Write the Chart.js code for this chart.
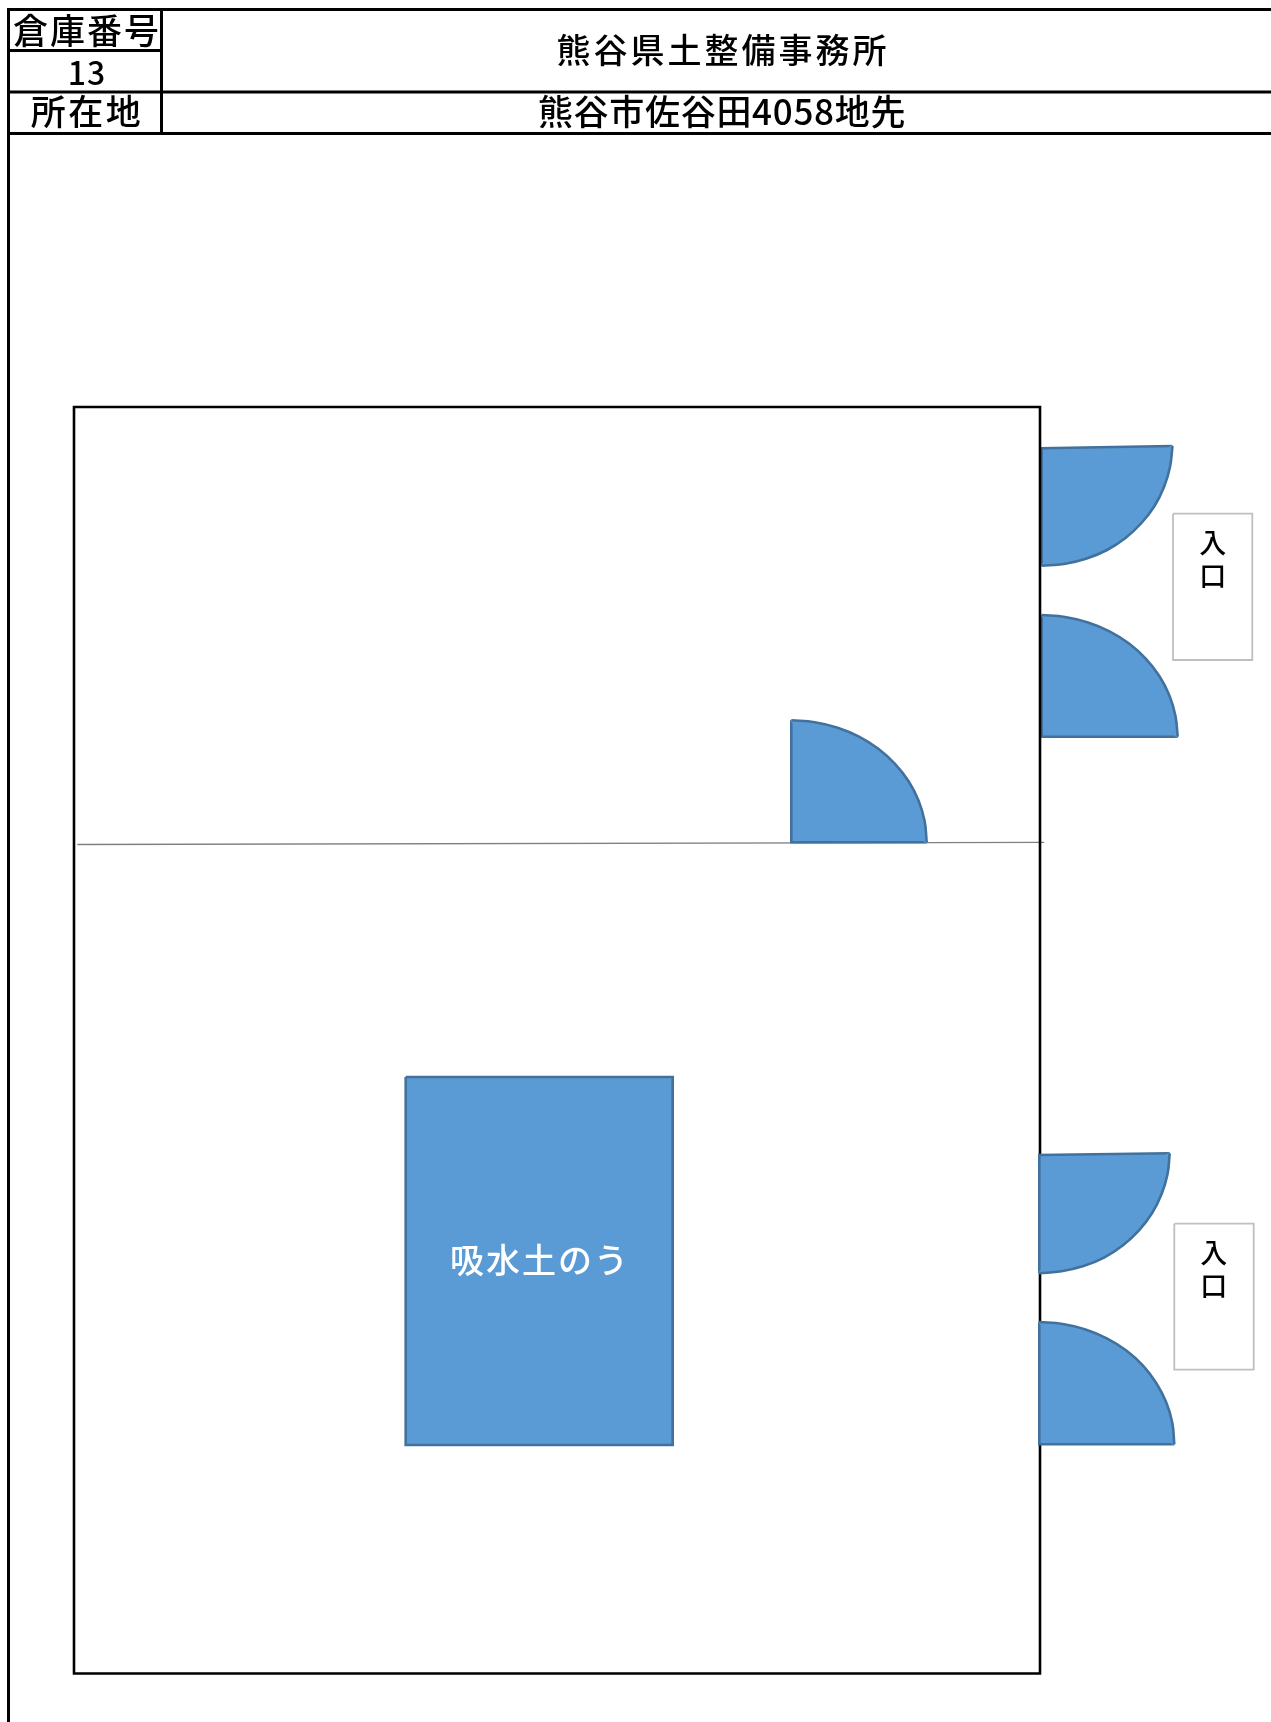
<!DOCTYPE html>
<html lang="ja">
<head>
<meta charset="utf-8">
<title>倉庫番号 13</title>
<script src="https://cdn.jsdelivr.net/npm/chart.js@4"></script>
<style>
  html, body { margin: 0; padding: 0; background: #fff; }
  canvas { display: block; }
</style>
</head>
<body>
<canvas id="plan" width="1271" height="1722"></canvas>
<script>
// Floor plan values
const frameX = [1271, 8.5, 8.5];
const frameY = [9.5, 9.5, 1722];
const cellRuleX = [8.5, 161.5];
const cellRuleY = [50.5, 50.5];
const rowRuleAX = [8.5, 1271];
const rowRuleAY = [92, 92];
const rowRuleBX = [8.5, 1271];
const rowRuleBY = [133.5, 133.5];
const headerSplitX = [161.5, 161.5];
const headerSplitY = [9.5, 133.5];

const roomX = [74, 1040, 1040, 74, 74];
const roomY = [407, 407, 1673.5, 1673.5, 407];
const dividerX = [78, 1043.5];
const dividerY = [844.5, 842.3];

const storeX = [405.7, 672.7, 672.7, 405.7, 405.7];
const storeY = [1077, 1077, 1445, 1445, 1077];

// door leaves: the curved edge, then the straight edges
const doorArcAX = [1172.5, 1170, 1164, 1154.5, 1141.5, 1125.5, 1107, 1086, 1064, 1041.7];
const doorArcAY = [446, 467, 487, 506, 523, 538, 550, 558.8, 564, 565.7];
const doorEdgeAX = [1041.7, 1041.7, 1172.5, 1041.7];
const doorEdgeAY = [565.7, 448.3, 446, 565.7];

const doorArcBX = [1041.7, 1065, 1088, 1109.5, 1129, 1145.7, 1159.3, 1169.3, 1175.4, 1177.7];
const doorArcBY = [615, 617, 622.4, 631.3, 643.5, 658.6, 676, 695.3, 715.8, 736.7];
const doorEdgeBX = [1177.7, 1041.7, 1041.7, 1177.7];
const doorEdgeBY = [736.7, 736.7, 615, 736.7];

const doorArcCX = [1169.7, 1167.5, 1161.5, 1152, 1139, 1123, 1104.5, 1083.5, 1061.5, 1039.3];
const doorArcCY = [1153.3, 1174.3, 1194.3, 1213.3, 1230.3, 1245.3, 1257.3, 1266.1, 1271.3, 1273.3];
const doorEdgeCX = [1039.3, 1039.3, 1169.7, 1039.3];
const doorEdgeCY = [1273.3, 1155, 1153.3, 1273.3];

const doorArcDX = [1039.3, 1062.7, 1085.5, 1106.8, 1126.3, 1143, 1156.2, 1166.2, 1172.3, 1174.3];
const doorArcDY = [1322, 1324, 1329.4, 1338.3, 1350.5, 1365.6, 1383, 1402.3, 1422.8, 1444.3];
const doorEdgeDX = [1174.3, 1039.3, 1039.3, 1174.3];
const doorEdgeDY = [1444.3, 1444.3, 1322, 1444.3];

const innerArcX = [791.3, 814.8, 837.6, 859, 878.3, 895, 908.6, 918.5, 924.6, 926.7];
const innerArcY = [720.3, 722.2, 727.7, 736.6, 748.8, 763.9, 781.3, 800.6, 821.1, 842.3];
const innerEdgeX = [926.7, 791.3, 791.3, 926.7];
const innerEdgeY = [842.3, 842.3, 720.3, 842.3];

const entryAX = [1173, 1252.3, 1252.3, 1173, 1173];
const entryAY = [513.7, 513.7, 660, 660, 513.7];
const entryBX = [1174.3, 1253.7, 1253.7, 1174.3, 1174.3];
const entryBY = [1223.7, 1223.7, 1369.7, 1369.7, 1223.7];

const headerLabels = ['倉庫番号', '13', '所在地', '熊谷県土整備事務所', '熊谷市佐谷田4058地先'];
const headerLabelX = [87, 87, 87, 723, 722];
const headerLabelY = [31, 72.5, 112, 50.5, 112];
const entryLabels = ['入', '口', '入', '口'];
const entryLabelX = [1212.7, 1212.7, 1213.7, 1213.7];
const entryLabelY = [542.5, 576, 1252.5, 1286];
const storeLabels = ['吸水土のう'];
const storeLabelX = [540];
const storeLabelY = [1260];

const BLUE = '#5B9BD5';
const BLUE_EDGE = '#41719C';
const EDGE_WIDTH = 2.6;

function points(xs, ys) {
  return xs.map((x, i) => ({ x, y: ys[i] }));
}

function rule(xs, ys, color, width) {
  return {
    data: points(xs, ys),
    showLine: true,
    borderColor: color,
    borderWidth: width,
    borderCapStyle: 'square',
    pointRadius: 0,
    tension: 0,
    fill: false,
  };
}

function shape(xs, ys, fillColor, edgeColor, width) {
  return {
    data: points(xs, ys),
    showLine: true,
    borderColor: edgeColor,
    borderWidth: width,
    backgroundColor: fillColor,
    pointRadius: 0,
    tension: 0,
    fill: 'shape',
  };
}

function doorArc(xs, ys) {
  return { ...shape(xs, ys, BLUE, BLUE_EDGE, EDGE_WIDTH), tension: 0.4 };
}

// the last segment is the chord under the arc, it stays the fill colour
function doorEdge(xs, ys) {
  return {
    ...shape(xs, ys, BLUE, BLUE_EDGE, EDGE_WIDTH),
    segment: { borderColor: (ctx) => (ctx.p0DataIndex === 2 ? BLUE : undefined) },
  };
}

// Draws the text through the same scales as the shapes
const planLabels = {
  id: 'planLabels',
  afterDatasetsDraw(chart) {
    const { ctx, scales } = chart;
    const put = (labels, xs, ys, font, color, spacing) => {
      ctx.save();
      ctx.font = font;
      ctx.fillStyle = color;
      ctx.textAlign = 'center';
      ctx.textBaseline = 'middle';
      ctx.letterSpacing = spacing;
      labels.forEach((label, i) => {
        ctx.fillText(label, scales.x.getPixelForValue(xs[i]), scales.y.getPixelForValue(ys[i]));
      });
      ctx.restore();
    };
    const jp = '"Noto Sans CJK JP"';
    put(headerLabels.slice(0, 1), headerLabelX, headerLabelY, `500 35px ${jp}`, '#000', '2px');
    put(headerLabels.slice(1, 2), headerLabelX.slice(1), headerLabelY.slice(1), `500 32px ${jp}`, '#000', '1px');
    put(headerLabels.slice(2, 3), headerLabelX.slice(2), headerLabelY.slice(2), `500 35px ${jp}`, '#000', '2.5px');
    put(headerLabels.slice(3, 4), headerLabelX.slice(3), headerLabelY.slice(3), `500 34px ${jp}`, '#000', '3px');
    put(headerLabels.slice(4), headerLabelX.slice(4), headerLabelY.slice(4), `500 35px ${jp}`, '#000', '0.7px');
    put(entryLabels, entryLabelX, entryLabelY, `500 27px ${jp}`, '#000', '0px');
    put(storeLabels, storeLabelX, storeLabelY, `500 34px ${jp}`, '#fff', '2px');
  },
};

new Chart(document.getElementById('plan'), {
  type: 'scatter',
  data: {
    // first dataset ends up on top
    datasets: [
      doorArc(doorArcCX, doorArcCY),
      doorEdge(doorEdgeCX, doorEdgeCY),
      doorArc(doorArcDX, doorArcDY),
      doorEdge(doorEdgeDX, doorEdgeDY),
      rule(roomX, roomY, '#000', 2.6),
      doorArc(doorArcAX, doorArcAY),
      doorEdge(doorEdgeAX, doorEdgeAY),
      doorArc(doorArcBX, doorArcBY),
      doorEdge(doorEdgeBX, doorEdgeBY),
      doorArc(innerArcX, innerArcY),
      doorEdge(innerEdgeX, innerEdgeY),
      rule(dividerX, dividerY, '#808080', 1.3),
      shape(storeX, storeY, BLUE, BLUE_EDGE, EDGE_WIDTH),
      shape(entryAX, entryAY, '#fff', '#BFBFBF', 1.8),
      shape(entryBX, entryBY, '#fff', '#BFBFBF', 1.8),
      rule(frameX, frameY, '#000', 3),
      rule(cellRuleX, cellRuleY, '#000', 3),
      rule(rowRuleAX, rowRuleAY, '#000', 3),
      rule(rowRuleBX, rowRuleBY, '#000', 3),
      rule(headerSplitX, headerSplitY, '#000', 3),
    ],
  },
  options: {
    responsive: false,
    animation: false,
    layout: { padding: 0 },
    plugins: { legend: { display: false }, tooltip: { enabled: false } },
    scales: {
      x: { type: 'linear', min: 0, max: 1271, display: false },
      y: { type: 'linear', min: 0, max: 1722, reverse: true, display: false },
    },
  },
  plugins: [planLabels],
});
</script>
</body>
</html>
